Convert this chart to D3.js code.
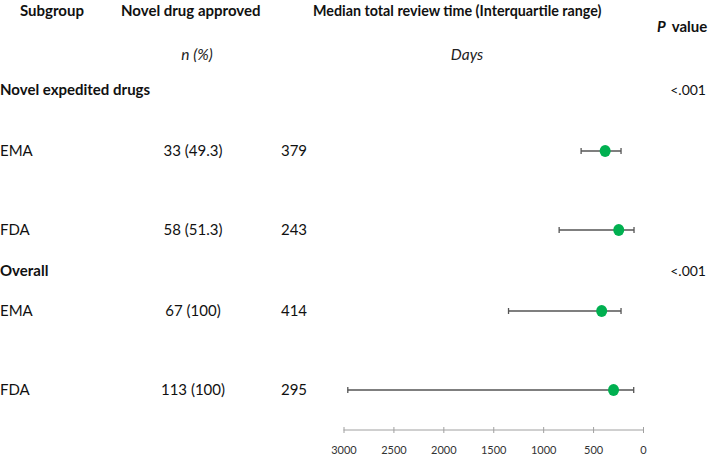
<!DOCTYPE html>
<html>
<head>
<meta charset="utf-8">
<script src="https://cdn.jsdelivr.net/npm/d3@7"></script>
<style>
  html, body { margin: 0; padding: 0; background: #fff; }
  svg { display: block; font-family: Lato, "Open Sans", sans-serif; }
</style>
</head>
<body>
<svg id="chart" width="709" height="457"></svg>
<script>
// ---------------- data ----------------
const groupLabels = ["Novel expedited drugs", "Overall"];
const groupPValues = ["<.001", "<.001"];
const agencies = ["EMA", "FDA", "EMA", "FDA"];
const rowGroup = [0, 0, 1, 1];
const nApproved = ["33 (49.3)", "58 (51.3)", "67 (100)", "113 (100)"];
const medianDays = [379, 243, 414, 295];
const iqrLow = [220, 90, 220, 93];
const iqrHigh = [620, 840, 1347, 2957];
const axisTicks = [3000, 2500, 2000, 1500, 1000, 500, 0];
const headers = ["Subgroup", "Novel drug approved", "Median total review time (Interquartile range)"];
const subHeaders = ["n (%)", "Days"];

// ---------------- layout ----------------
const svg = d3.select("#chart");
const rowY = [151, 230, 311, 390];
const groupY = [90, 271];
const x = d3.scaleLinear().domain([3000, 0]).range([343.5, 643]);
const axisY = 430;

// headers
const hx = [20, 121, 313];
const hs = [15, 15, 14.3];
svg.selectAll("text.hdr").data(headers).join("text")
  .attr("class", "hdr")
  .attr("x", (d, i) => hx[i]).attr("y", 16)
  .attr("font-size", (d, i) => hs[i]).attr("font-weight", 700).attr("fill", "#111")
  .text(d => d);

svg.append("text")
  .attr("x", 657).attr("y", 32)
  .attr("font-size", 15).attr("font-weight", 700).attr("fill", "#111")
  .call(t => {
    t.append("tspan").attr("font-style", "italic").text("P");
    t.append("tspan").attr("dx", 6).text("value");
  });

const shx = [197, 467];
svg.selectAll("text.sub").data(subHeaders).join("text")
  .attr("class", "sub")
  .attr("x", (d, i) => shx[i]).attr("y", 60)
  .attr("text-anchor", "middle")
  .attr("font-size", 15.5).attr("font-style", "italic").attr("fill", "#222")
  .text(d => d);

// group labels
svg.selectAll("text.grp").data(groupLabels).join("text")
  .attr("class", "grp")
  .attr("x", 0).attr("y", (d, i) => groupY[i] + 5)
  .attr("font-size", 15).attr("font-weight", 700).attr("fill", "#111")
  .text(d => d);

svg.selectAll("text.pv").data(groupPValues).join("text")
  .attr("class", "pv")
  .attr("x", 706).attr("y", (d, i) => groupY[i] + 5)
  .attr("text-anchor", "end")
  .attr("font-size", 14).attr("fill", "#111")
  .text(d => d);

// rows
const rows = agencies.map((a, i) => ({
  agency: a, group: rowGroup[i], n: nApproved[i],
  median: medianDays[i], lo: iqrLow[i], hi: iqrHigh[i], y: rowY[i]
}));

svg.selectAll("text.ag").data(rows).join("text")
  .attr("class", "ag")
  .attr("x", 0).attr("y", d => d.y + 5)
  .attr("font-size", 15).attr("fill", "#111")
  .text(d => d.agency);

svg.selectAll("text.n").data(rows).join("text")
  .attr("class", "n")
  .attr("x", 193).attr("y", d => d.y + 5)
  .attr("text-anchor", "middle")
  .attr("font-size", 15).attr("fill", "#111")
  .text(d => d.n);

svg.selectAll("text.med").data(rows).join("text")
  .attr("class", "med")
  .attr("x", 294).attr("y", d => d.y + 5)
  .attr("text-anchor", "middle")
  .attr("font-size", 15).attr("fill", "#111")
  .text(d => d.median);

// error bars
const eb = svg.selectAll("g.eb").data(rows).join("g").attr("class", "eb");
eb.append("line")
  .attr("x1", d => x(d.hi)).attr("x2", d => x(d.lo))
  .attr("y1", d => d.y).attr("y2", d => d.y)
  .attr("stroke", "#555").attr("stroke-width", 1.3);
eb.append("line")
  .attr("x1", d => x(d.hi)).attr("x2", d => x(d.hi))
  .attr("y1", d => d.y - 3).attr("y2", d => d.y + 3)
  .attr("stroke", "#555").attr("stroke-width", 1.3);
eb.append("line")
  .attr("x1", d => x(d.lo)).attr("x2", d => x(d.lo))
  .attr("y1", d => d.y - 3).attr("y2", d => d.y + 3)
  .attr("stroke", "#555").attr("stroke-width", 1.3);
eb.append("ellipse")
  .attr("cx", d => x(d.median)).attr("cy", d => d.y)
  .attr("rx", 5.5).attr("ry", 6)
  .attr("fill", "#00b050");

// axis
const axis = d3.axisBottom(x).tickValues(axisTicks).tickSize(3).tickPadding(13)
  .tickFormat(d3.format("d"));
const ag = svg.append("g").attr("transform", `translate(0,${axisY})`).call(axis);
ag.select(".domain").attr("stroke", "#a0a0a0").attr("d", `M${x(3000)},0H${x(0)}`);
ag.selectAll(".tick line").attr("stroke", "#a0a0a0").attr("y1", -3).attr("y2", 3);
ag.selectAll(".tick text").attr("font-size", 11).attr("fill", "#333")
  .attr("font-family", "Lato, sans-serif");
</script>
</body>
</html>
